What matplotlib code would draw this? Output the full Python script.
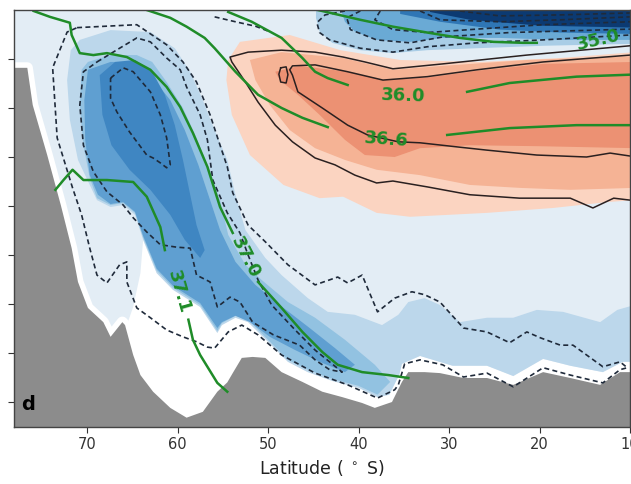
import numpy as np
import matplotlib.pyplot as plt

# section: latitude (deg S) against depth (m)

# sea floor
bathy_lat = [78.5, 76.6, 76.0, 74.4, 72.9, 71.7, 71.0, 69.9, 68.2, 67.4, 66.1, 65.8, 64.9, 64.1,
             62.7, 60.8, 59.0, 57.2, 55.6, 54.5, 53.9, 52.9, 51.7, 50.3, 48.5, 46.2, 44.0, 41.8,
             39.6, 38.2, 36.3, 35.2, 34.5, 32.7, 31.0, 28.4, 25.8, 22.9, 19.6, 16.6, 13.3, 11.1, 9.5]
bathy_depth = [590, 590, 970, 1480, 1990, 2430, 2775, 3040, 3185, 3335, 3185, 3215, 3520, 3725,
               3895, 4060, 4160, 4100, 3895, 3800, 3705, 3550, 3540, 3550, 3695, 3795, 3895, 3950,
               4010, 4060, 4000, 3795, 3695, 3695, 3705, 3755, 3755, 3825, 3695, 3755, 3825, 3695, 3695]

# light blue band: tongue plus deep layer
light_top_lat = [70.8, 67.4, 63.0, 60.3, 58.6, 57.2, 55.9, 54.5, 53.6, 52.5, 50.3, 48.5, 45.6, 43.4,
                 40.4, 37.4, 35.6, 34.5, 32.7, 31.0, 28.8, 25.8, 22.9, 20.3, 17.4, 13.3, 11.4, 9.5]
light_top_depth = [305, 205, 225, 390, 630, 920, 1225, 1530, 1885, 2245, 2530, 2705, 2940, 3080,
                   3110, 3215, 3110, 2980, 2940, 3010, 3185, 3140, 3140, 3060, 3080, 3185, 3060, 3010]
band_bot_lat = [9.5, 10.8, 13.0, 16.6, 19.6, 22.9, 25.8, 29.6, 33.2, 35.2, 36.0, 37.9, 40.0, 42.9,
                45.6, 47.8, 50.0, 52.2, 53.6, 55.1, 55.6, 57.5, 60.5, 62.3, 63.8]
band_bot_depth = [3590, 3590, 3695, 3630, 3560, 3735, 3630, 3630, 3530, 3610, 3915, 3950, 3855, 3785,
                  3695, 3590, 3385, 3185, 3140, 3215, 3295, 3030, 2855, 2685, 2345]
tongue_west_lat = [64.7, 66.0, 67.4, 68.9, 69.7, 71.0, 71.9, 72.2, 71.8]
tongue_west_depth = [2090, 1990, 2010, 1940, 1785, 1530, 1120, 715, 410]
pale_west_lat = [64.1, 64.9, 65.6]
pale_west_depth = [2685, 3030, 3215]

med_lat = [69.9, 67.4, 64.5, 62.8, 61.2, 59.4, 57.9, 56.4, 55.3, 54.4, 52.5, 50.7, 47.8, 44.8, 41.5,
           38.2, 36.5, 37.9, 40.0, 42.9, 45.6, 47.8, 50.0, 52.2, 53.6, 55.1, 55.6, 57.5, 60.5, 62.3,
           63.8, 64.7, 66.0, 67.4, 68.9, 69.7, 70.4, 70.8, 70.6]
med_depth = [530, 460, 460, 530, 735, 1000, 1305, 1650, 1940, 2295, 2600, 2755, 2980, 3140, 3365,
             3620, 3795, 3925, 3835, 3765, 3670, 3570, 3365, 3160, 3120, 3195, 3275, 3010, 2835, 2660,
             2325, 2070, 1970, 1990, 1920, 1715, 1380, 970, 610]

dark_lat = [69.9, 67.4, 65.3, 63.0, 60.8, 59.2, 57.7, 56.4, 55.3, 53.6, 51.4, 48.7, 45.4, 42.6, 40.4,
            41.5, 44.3, 47.0, 49.8, 52.0, 53.6, 55.1, 55.6, 57.5, 60.5, 62.3, 63.8, 64.7, 66.0, 67.4,
            68.8, 69.7, 70.2, 70.3]
dark_depth = [610, 530, 530, 665, 920, 1225, 1580, 1940, 2245, 2570, 2805, 3010, 3245, 3450, 3620,
              3695, 3590, 3470, 3335, 3185, 3120, 3185, 3245, 2990, 2815, 2640, 2305, 2060, 1960, 1980,
              1885, 1685, 1325, 920]

core_lat = [68.6, 66.9, 64.7, 62.8, 61.4, 60.3, 59.4, 58.6, 57.9, 57.0, 57.5, 59.2, 60.8, 63.0,
            65.3, 67.3, 68.3]
core_depth = [665, 530, 510, 630, 865, 1175, 1530, 1885, 2195, 2450, 2530, 2345, 2090, 1835,
              1630, 1380, 1070]

# near-surface blue patch (light to darkest)
top1_lat = [44.7, 9.5, 9.5, 19.6, 26.9, 32.4, 36.2, 39.8, 42.9, 44.3, 44.7]
top1_depth = [-20, -20, 345, 365, 390, 410, 440, 410, 335, 220, 80]
top2_lat = [42.0, 9.5, 9.5, 17.7, 24.4, 30.7, 34.3, 38.0, 40.4, 41.5]
top2_depth = [-20, -20, 305, 305, 285, 285, 325, 305, 220, 120]
top3_lat = [35.4, 9.5, 9.5, 17.7, 24.4, 31.0, 35.4]
top3_depth = [-20, -20, 245, 230, 200, 120, 40]
top4_lat = [32.1, 9.5, 9.5, 19.9, 27.7, 32.1]
top4_depth = [-20, -20, 180, 160, 100, 20]

# warm core (light, medium, strong)
red1_lat = [54.4, 53.1, 47.6, 42.0, 35.4, 26.6, 17.7, 9.5, 9.5, 12.5, 18.5, 25.8, 34.3, 38.0, 41.7,
            44.3, 48.3, 52.0, 54.0, 54.6]
red1_depth = [510, 325, 255, 410, 510, 530, 490, 430, 1940, 1960, 2020, 2070, 2110, 2070, 1905,
              1920, 1785, 1480, 1070, 715]
red2_lat = [52.0, 48.5, 41.7, 36.2, 30.7, 21.4, 9.5, 9.5, 16.6, 22.2, 27.7, 33.2, 38.0, 41.5, 44.8,
            47.6, 49.8, 51.4]
red2_depth = [510, 430, 490, 610, 570, 510, 470, 1815, 1835, 1815, 1785, 1685, 1630, 1530, 1410,
              1225, 970, 715]
red3_lat = [49.2, 46.5, 41.2, 37.3, 32.4, 26.9, 19.6, 9.5, 9.5, 19.9, 27.7, 33.2, 36.0, 39.3, 41.5,
            44.3, 46.7, 48.7]
red3_depth = [630, 570, 630, 715, 690, 620, 550, 530, 1410, 1390, 1380, 1410, 1500, 1480, 1325,
              1070, 865, 715]

# positive contours (solid)
pos1_lat = [10.0, 21.4, 30.7, 36.2, 39.3, 41.7, 44.8, 48.5, 52.2, 54.2, 54.0, 52.5, 51.1, 49.2,
            47.3, 44.8, 42.6, 40.4, 38.0, 36.2, 32.4, 27.7, 22.2, 16.6, 14.1, 11.8, 10.0]
pos1_depth = [365, 460, 550, 600, 530, 480, 430, 410, 430, 480, 530, 735, 940, 1175, 1345, 1510,
              1580, 1685, 1765, 1745, 1805, 1885, 1920, 1920, 2020, 1920, 1940]
pos2_lat = [10.0, 19.6, 26.9, 32.4, 37.3, 41.2, 44.8, 47.3, 47.6, 47.3, 46.7, 44.0, 41.2, 39.0,
            35.6, 33.2, 28.8, 25.8, 20.3, 14.8, 12.2, 10.0]
pos2_depth = [460, 530, 610, 680, 715, 630, 560, 570, 610, 665, 835, 1000, 1175, 1275, 1345, 1355,
              1400, 1430, 1480, 1500, 1460, 1490]
pos3_lat = [48.6, 48.0, 47.8, 48.0, 48.6, 48.8, 48.6]
pos3_depth = [590, 580, 660, 745, 735, 655, 590]

# negative contours (dashed)
neg1_lat = [71.1, 64.5, 61.2, 59.4, 57.9, 56.4, 55.3, 54.5, 53.9, 52.2, 50.3, 47.8, 44.8, 42.3,
            41.2, 39.6, 37.9, 36.0, 34.1, 32.7, 31.0, 28.4, 25.8, 23.3, 21.4, 19.9, 17.7, 16.3,
            13.0, 11.1, 10.3, 11.1, 13.0, 16.6, 19.6, 22.9, 25.8, 28.4, 30.7, 33.2, 34.9, 35.6,
            36.0, 37.9, 41.2, 44.8, 48.5, 51.1, 52.9, 54.4, 55.9, 56.7, 57.9, 59.4, 61.2, 63.0,
            64.5, 65.6, 65.6, 66.4, 67.8, 68.9, 69.7, 70.6, 71.6, 73.3, 73.8, 72.2, 71.1]
neg1_depth = [180, 150, 355, 530, 735, 1070, 1380, 1600, 1865, 2195, 2365, 2600, 2805, 2725,
              2785, 2705, 3080, 2940, 2875, 2905, 2980, 3245, 3285, 3395, 3285, 3345, 3420, 3420,
              3640, 3590, 3650, 3670, 3805, 3725, 3650, 3845, 3705, 3745, 3620, 3570, 3610, 3825,
              3875, 3960, 3825, 3705, 3520, 3315, 3215, 3285, 3450, 3440, 3385, 3335, 3265, 3140,
              3040, 2775, 2570, 2600, 2785, 2705, 2430, 2090, 1815, 1305, 590, 225, 180]
neg2_lat = [68.9, 66.4, 64.5, 63.0, 61.2, 59.7, 59.0, 57.5, 56.7, 56.1, 54.5, 53.1, 52.2, 51.1,
            49.6, 47.0, 44.8, 43.2, 41.8, 43.2, 44.8, 46.5, 49.4, 51.7, 53.1, 54.2, 55.6, 56.4,
            57.9, 58.6, 60.1, 61.9, 63.4, 64.9, 66.0, 67.8, 69.3, 70.4, 70.8, 70.4, 68.9]
neg2_depth = [530, 390, 285, 325, 490, 610, 785, 1070, 1325, 1735, 2070, 2275, 2500, 2755,
              3010, 3265, 3470, 3590, 3695, 3670, 3570, 3420, 3315, 3185, 2980, 2930, 3030, 2775,
              2705, 2430, 2420, 2395, 2265, 2120, 1990, 1855, 1650, 1380, 970, 630, 530]
neg3_lat = [67.4, 66.0, 64.9, 63.0, 61.9, 61.2, 60.8, 61.2, 61.9, 62.7, 63.4, 65.3, 66.7, 67.4, 67.4]
neg3_depth = [695, 590, 630, 835, 1070, 1305, 1580, 1610, 1560, 1510, 1480, 1245, 1040, 900, 695]
neg4_lat = [41.5, 43.7, 44.6, 44.3, 43.2, 39.8, 36.2, 32.4, 26.9, 19.6, 10.0]
neg4_depth = [10, 50, 130, 230, 305, 390, 430, 375, 335, 305, 255]
neg5_lat = [39.8, 41.3, 40.9, 38.0, 34.3, 30.7, 23.3, 10.0]
neg5_depth = [10, 80, 200, 305, 335, 275, 230, 195]
neg6_lat = [37.6, 38.2, 36.2, 32.4, 26.9, 19.6, 10.0]
neg6_depth = [10, 100, 200, 230, 195, 150, 120]
neg7_lat = [33.2, 31.0, 24.4, 17.7, 10.0]
neg7_depth = [10, 100, 120, 100, 70]
neg8_lat = [28.8, 24.4, 17.7, 10.0]
neg8_depth = [10, 60, 50, 30]
neg9_lat = [55.9, 53.6, 51.4, 50.0]
neg9_depth = [70, 120, 165, 215]

# density contours (green), split where the label sits
g370a_lat = [75.9, 74.1, 71.9, 71.7, 70.8, 69.3, 67.8, 65.6, 63.0, 61.2, 59.7, 58.3, 56.7, 55.3, 53.9]
g370a_depth = [10, 70, 130, 255, 440, 460, 440, 480, 610, 785, 990, 1255, 1600, 2010, 2275]
g370b_lat = [51.1, 48.5, 46.2, 44.0, 42.3, 39.6, 36.7, 34.5]
g370b_depth = [2775, 3040, 3285, 3490, 3620, 3695, 3725, 3755]
g371a_lat = [73.5, 72.6, 71.6, 70.4, 67.8, 64.9, 63.4, 61.9, 61.4]
g371a_depth = [1835, 1735, 1630, 1735, 1735, 1755, 1905, 2215, 2450]
g371b_lat = [58.8, 58.3, 57.5, 56.7, 55.6, 54.5]
g371b_depth = [3160, 3365, 3520, 3640, 3805, 3895]
g366a_lat = [63.4, 60.8, 59.0, 57.0, 55.9, 53.6, 51.1, 48.5, 46.2, 43.4]
g366a_depth = [0, 80, 170, 285, 390, 630, 865, 1000, 1100, 1195]
g366b_lat = [30.2, 23.3, 15.9, 10.0]
g366b_depth = [1275, 1205, 1175, 1175]
g360a_lat = [54.4, 51.8, 48.5, 46.2, 44.8, 43.4, 41.2]
g360a_depth = [20, 120, 285, 490, 630, 695, 765]
g360b_lat = [28.0, 23.3, 15.9, 10.0]
g360b_depth = [835, 745, 680, 660]
g350_lat = [44.5, 39.8, 36.2, 32.4, 28.8, 25.1, 21.8, 20.3]
g350_depth = [0, 100, 170, 230, 285, 325, 335, 335]

fig = plt.figure(figsize=(6.31, 4.84), dpi=100)
ax = fig.add_axes([14 / 631, 57 / 484, 616 / 631, 417 / 484])


def band(lat, depth, color):
    ax.fill(lat, depth, color=color, lw=0, zorder=1)


# pale background of the ocean part
left = [i for i, la in enumerate(bathy_lat) if la >= 65.8][::-1]
pale_lat = band_bot_lat + pale_west_lat + [bathy_lat[i] for i in left] + [78.5, 9.5]
pale_depth = band_bot_depth + pale_west_depth + [bathy_depth[i] for i in left] + [-20, -20]
band(pale_lat, pale_depth, '#e3edf5')

band(light_top_lat + band_bot_lat + tongue_west_lat,
     light_top_depth + band_bot_depth + tongue_west_depth, '#bcd7eb')
band(med_lat, med_depth, '#92c2e1')
band(dark_lat, dark_depth, '#5f9fd1')
band(core_lat, core_depth, '#3f86c2')

band(red1_lat, red1_depth, '#fbd4c1')
band(red2_lat, red2_depth, '#f5b395')
band(red3_lat, red3_depth, '#ec9173')

band(top1_lat, top1_depth, '#a9cde6')
band(top2_lat, top2_depth, '#6aaad5')
band(top3_lat, top3_depth, '#2f76b5')
band(top4_lat, top4_depth, '#0c3a72')

# sea floor with a blank margin
ax.plot(bathy_lat, bathy_depth, color='white', lw=8, solid_joinstyle='round', zorder=2)
ax.fill(bathy_lat + [9.5, 78.5], bathy_depth + [4400, 4400], color='#8c8c8c', lw=0, zorder=3)

for la, de in [(pos1_lat, pos1_depth), (pos2_lat, pos2_depth), (pos3_lat, pos3_depth)]:
    ax.plot(la, de, color='#2a2020', lw=1.1, zorder=4)

negs = [(neg1_lat, neg1_depth), (neg2_lat, neg2_depth), (neg3_lat, neg3_depth),
        (neg4_lat, neg4_depth), (neg5_lat, neg5_depth), (neg6_lat, neg6_depth),
        (neg7_lat, neg7_depth), (neg8_lat, neg8_depth), (neg9_lat, neg9_depth)]
for la, de in negs:
    ax.plot(la, de, color='#1f2a3a', lw=1.2, ls=(0, (3, 2)), zorder=4)

green = '#1f8c28'
for la, de in [(g370a_lat, g370a_depth), (g370b_lat, g370b_depth), (g371a_lat, g371a_depth),
               (g371b_lat, g371b_depth), (g366a_lat, g366a_depth), (g366b_lat, g366b_depth),
               (g360a_lat, g360a_depth), (g360b_lat, g360b_depth), (g350_lat, g350_depth)]:
    ax.plot(la, de, color=green, lw=1.8, zorder=5)

lab = dict(color=green, fontsize=13, fontweight='bold', ha='center', va='center', zorder=6)
ax.text(52.5, 2530, '37.0', rotation=-63, **lab)
ax.text(59.9, 2875, '37.1', rotation=-74, **lab)
ax.text(35.1, 880, '36.0', rotation=-2, **lab)
ax.text(36.9, 1325, '36.6', rotation=-4, **lab)
ax.text(13.5, 305, '35.0', rotation=13, **lab)

ax.text(0.012, 0.03, 'd', transform=ax.transAxes, fontsize=14, fontweight='bold',
        ha='left', va='bottom', zorder=6)

ax.set_xlim(78.07, 10)
ax.set_ylim(4255, 0)
ax.set_xticks([70, 60, 50, 40, 30, 20, 10])
ax.set_yticks(np.arange(500, 4001, 500))
ax.set_yticklabels([])
ax.tick_params(direction='out', length=4, width=0.8, labelsize=10.5, colors='#333333')
for s in ax.spines.values():
    s.set_color('#444444')
    s.set_linewidth(1.0)
    s.set_zorder(7)
ax.set_xlabel('Latitude ( $^\\circ$ S)', fontsize=12.5, color='#222222', labelpad=4)

fig.savefig('out.png', dpi=100)
